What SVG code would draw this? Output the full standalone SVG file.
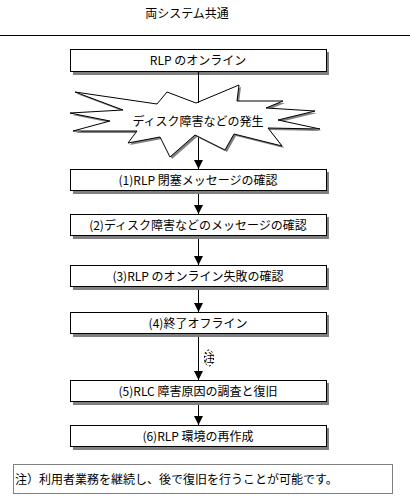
<svg xmlns="http://www.w3.org/2000/svg" width="410" height="500" viewBox="0 0 410 500">
<style>
text{font-family:"Noto Sans CJK JP","Noto Sans CJK SC",sans-serif;font-size:12px;fill:#000}
.box{fill:#fff;stroke:#000;stroke-width:1}
.sh{fill:#808080}
.lbl{text-anchor:middle}
.ln{stroke:#000;stroke-width:1;fill:none}
</style>
<defs>
<marker id="ah" markerWidth="10" markerHeight="10" refX="9" refY="5" orient="auto" markerUnits="userSpaceOnUse" viewBox="0 0 10 10">
<path d="M0,0.5 L9,5 L0,9.5 Z" fill="#000"/>
</marker>
</defs>
<rect width="410" height="500" fill="#fff"/>
<text x="187" y="18" class="lbl">両システム共通</text>
<line x1="0" y1="35.5" x2="410" y2="35.5" stroke="#000"/>
<g id="connectors">
<line class="ln" x1="198.5" y1="72" x2="198.5" y2="169" marker-end="url(#ah)"/>
<line class="ln" x1="198.5" y1="191" x2="198.5" y2="214" marker-end="url(#ah)"/>
<line class="ln" x1="198.5" y1="236" x2="198.5" y2="265" marker-end="url(#ah)"/>
<line class="ln" x1="198.5" y1="287" x2="198.5" y2="312" marker-end="url(#ah)"/>
<line class="ln" x1="198.5" y1="334" x2="198.5" y2="380" marker-end="url(#ah)"/>
<line class="ln" x1="198.5" y1="402" x2="198.5" y2="425" marker-end="url(#ah)"/>
</g>
<g id="note-mark">
<ellipse cx="209" cy="358" rx="4.5" ry="8" fill="#fff" stroke="#000" stroke-dasharray="2,2"/>
<text x="209" y="362" class="lbl" style="font-size:11px">注</text>
</g>
<g id="n0">
<rect class="sh" x="73" y="52" width="256" height="23"/>
<rect class="box" x="70.5" y="49.5" width="256" height="22"/>
<text x="198" y="65" class="lbl">RLP のオンライン</text>
</g>
<g id="star">
<polygon class="sh" transform="translate(2,2)" points="75,92 157,104 167,92 196,103 239,85 237,101 283,101 266,108 315,111 278,120 320,129 268,128 282,146 234,134 225,150 195,135 170,157 160,137 128,143 137,131 73,131 110,121 70,113 123,110"/>
<polygon fill="#fff" stroke="#000" points="75,92 157,104 167,92 196,103 239,85 237,101 283,101 266,108 315,111 278,120 320,129 268,128 282,146 234,134 225,150 195,135 170,157 160,137 128,143 137,131 73,131 110,121 70,113 123,110"/>
<line class="ln" x1="198.5" y1="72" x2="198.5" y2="103"/>
<text x="198" y="126" class="lbl">ディスク障害などの発生</text>
</g>
<g id="n1">
<rect class="sh" x="73" y="172" width="256" height="22"/>
<rect class="box" x="70.5" y="169.5" width="256" height="21"/>
<text x="198" y="185" class="lbl">(1)RLP 閉塞メッセージの確認</text>
</g>
<g id="n2">
<rect class="sh" x="73" y="217" width="256" height="22"/>
<rect class="box" x="70.5" y="214.5" width="256" height="21"/>
<text x="198" y="230" class="lbl">(2)ディスク障害などのメッセージの確認</text>
</g>
<g id="n3">
<rect class="sh" x="73" y="268" width="256" height="22"/>
<rect class="box" x="70.5" y="265.5" width="256" height="21"/>
<text x="198" y="281" class="lbl">(3)RLP のオンライン失敗の確認</text>
</g>
<g id="n4">
<rect class="sh" x="73" y="315" width="256" height="22"/>
<rect class="box" x="70.5" y="312.5" width="256" height="21"/>
<text x="198" y="328" class="lbl">(4)終了オフライン</text>
</g>
<g id="n5">
<rect class="sh" x="73" y="383" width="256" height="22"/>
<rect class="box" x="70.5" y="380.5" width="256" height="21"/>
<text x="198" y="396" class="lbl">(5)RLC 障害原因の調査と復旧</text>
</g>
<g id="n6">
<rect class="sh" x="73" y="428" width="256" height="22"/>
<rect class="box" x="70.5" y="425.5" width="256" height="21"/>
<text x="198" y="441" class="lbl">(6)RLP 環境の再作成</text>
</g>
<g id="footnote">
<rect x="13.5" y="464.5" width="379" height="29" fill="none" stroke="#000" stroke-dasharray="1,1"/>
<text x="15" y="484">注）利用者業務を継続し、後で復旧を行うことが可能です。</text>
</g>
</svg>
